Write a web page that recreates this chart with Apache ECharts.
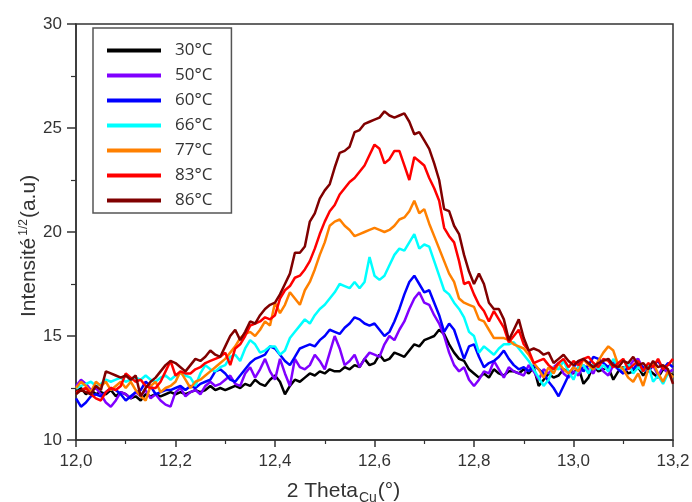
<!DOCTYPE html>
<html>
<head>
<meta charset="utf-8">
<script src="https://cdn.jsdelivr.net/npm/echarts@6/dist/echarts.min.js"></script>
<style>html,body{margin:0;padding:0;background:#fff;}#c{width:692px;height:502px;}</style>
</head>
<body>
<div id="c"></div>
<script>
const twoTheta = [
12.00,12.01,12.02,12.03,12.04,12.05,12.06,12.07,12.08,12.09,
12.10,12.11,12.12,12.13,12.14,12.15,12.16,12.17,12.18,12.19,
12.20,12.21,12.22,12.23,12.24,12.25,12.26,12.27,12.28,12.29,
12.30,12.31,12.32,12.33,12.34,12.35,12.36,12.37,12.38,12.39,
12.40,12.41,12.42,12.43,12.44,12.45,12.46,12.47,12.48,12.49,
12.50,12.51,12.52,12.53,12.54,12.55,12.56,12.57,12.58,12.59,
12.60,12.61,12.62,12.63,12.64,12.65,12.66,12.67,12.68,12.69,
12.70,12.71,12.72,12.73,12.74,12.75,12.76,12.77,12.78,12.79,
12.80,12.81,12.82,12.83,12.84,12.85,12.86,12.87,12.88,12.89,
12.90,12.91,12.92,12.93,12.94,12.95,12.96,12.97,12.98,12.99,
13.00,13.01,13.02,13.03,13.04,13.05,13.06,13.07,13.08,13.09,
13.10,13.11,13.12,13.13,13.14,13.15,13.16,13.17,13.18,13.19,
13.20];

const seriesNames = ['30°C','50°C','60°C','66°C','77°C','83°C','86°C'];
const seriesColors = ['#000000','#8000ff','#0000ff','#00ffff','#ff8000','#ff0000','#800000'];

const t30 = [
12.3,12.5,12.2,12.4,12.2,12.3,12.2,12.4,12.1,12.3,
12.2,12.0,12.1,11.9,12.2,12.1,12.2,12.1,12.2,12.3,
12.2,12.3,12.2,12.3,12.4,12.3,12.4,12.6,12.4,12.5,
12.4,12.5,12.6,12.5,12.7,12.6,12.9,12.7,12.6,12.9,
13.1,12.8,12.2,12.6,12.9,12.8,13.0,13.2,13.1,13.3,
13.2,13.4,13.3,13.3,13.5,13.4,13.6,13.5,13.9,13.6,
13.7,14.1,13.8,13.9,14.2,14.1,14.0,14.3,14.6,14.5,
14.8,14.9,15.0,15.3,15.1,14.6,14.2,13.9,13.8,13.4,
13.2,13.0,13.2,13.0,13.4,13.2,13.1,13.3,13.3,13.2,
13.4,13.2,13.5,12.6,12.9,13.2,13.0,13.1,13.4,13.3,
13.2,13.5,12.7,13.0,13.6,13.3,13.4,13.5,12.9,13.3,
13.5,13.2,13.3,13.5,13.1,13.4,13.2,13.0,13.4,13.3,
13.1];

const t50 = [
12.6,12.9,12.7,12.4,12.5,12.2,11.8,11.6,11.9,12.3,
12.2,12.0,12.3,12.1,12.4,12.0,12.2,11.9,11.7,11.6,
12.3,12.5,12.1,12.3,12.4,12.2,12.6,12.8,12.6,12.7,
12.9,13.1,12.7,12.6,13.2,13.5,13.0,13.4,13.9,13.3,
12.9,13.9,13.2,12.6,13.9,13.5,13.4,13.6,14.1,13.8,
13.4,14.2,15.0,14.4,13.6,13.8,14.1,13.5,13.9,14.2,
14.1,14.0,14.6,15.0,14.8,15.3,15.7,16.3,16.8,17.1,
16.6,16.5,16.0,15.6,15.0,14.2,13.6,13.3,13.5,12.9,
12.6,12.9,13.3,13.2,13.8,13.4,13.0,13.5,13.3,13.2,
13.1,13.6,13.3,12.9,13.4,13.2,13.5,13.7,13.2,13.0,
13.3,13.1,13.6,13.4,13.2,13.8,13.3,13.1,13.6,13.4,
13.2,13.5,13.8,13.9,13.4,13.3,13.6,13.1,13.5,13.2,
13.4];

const t60 = [
12.0,11.6,11.8,12.1,12.2,12.1,12.3,12.5,12.4,12.2,
11.9,12.1,12.3,12.4,12.8,12.6,12.2,12.3,12.4,12.4,
12.5,12.6,12.4,12.6,12.5,12.7,12.8,12.9,13.3,13.4,
13.2,12.9,12.8,13.1,13.4,13.7,13.9,14.0,14.1,14.5,
14.4,14.1,13.8,13.6,14.0,14.4,14.5,14.6,14.5,14.8,
15.0,15.3,15.2,15.1,15.4,15.6,15.9,15.8,15.6,15.5,
15.6,15.3,15.0,15.2,15.7,16.3,17.0,17.6,17.9,17.5,
17.1,17.2,16.6,16.0,15.2,15.6,15.3,14.6,13.9,14.5,
14.6,14.0,13.5,13.7,13.8,14.0,14.3,13.9,13.6,13.4,
13.5,13.3,13.6,13.4,13.2,12.8,12.5,12.1,12.6,13.1,
13.5,13.8,13.3,13.6,14.0,13.9,13.7,13.5,13.8,13.4,
13.2,13.6,13.4,13.7,13.5,13.3,13.6,13.8,13.4,13.7,
13.5];

const t66 = [
12.5,12.6,12.7,12.8,12.6,12.7,12.9,12.8,12.9,13.0,
12.8,12.9,13.0,12.9,13.1,12.9,12.8,13.0,13.1,12.9,
13.1,13.2,13.1,13.0,12.6,13.2,13.6,13.4,13.3,13.5,
13.6,14.0,14.1,13.8,14.4,14.8,14.6,14.2,14.3,14.5,
14.5,14.1,14.3,14.9,15.2,15.5,15.8,15.6,16.0,16.3,
16.5,16.8,17.1,17.5,17.4,17.3,17.6,17.3,17.6,18.8,
17.9,17.7,17.9,18.4,18.9,19.2,19.1,19.5,19.9,19.2,
19.4,19.3,18.6,17.9,17.2,17.0,16.6,16.3,15.9,15.2,
15.0,14.2,14.5,14.3,14.1,14.4,14.6,14.6,14.7,14.4,
14.1,13.8,13.4,13.0,12.6,12.9,13.5,13.4,13.8,13.3,
12.9,13.5,13.6,13.2,13.7,13.4,13.6,13.3,13.9,13.5,
13.4,13.7,13.2,13.5,13.3,13.6,12.8,13.1,12.7,13.2,
13.0];

const t77 = [
12.5,12.8,12.6,12.3,12.8,12.6,12.8,12.4,12.6,12.8,
12.5,12.8,12.4,12.1,11.9,12.6,12.8,12.3,12.5,12.6,
12.8,13.3,12.9,12.5,12.8,12.9,13.1,13.3,13.5,13.7,
13.9,14.2,14.5,14.9,15.1,15.2,15.0,15.3,15.7,15.5,
16.6,16.1,16.5,17.1,16.8,16.5,17.2,17.6,18.2,18.9,
19.5,20.3,20.5,20.6,20.3,20.1,19.8,19.9,20.0,20.1,
20.2,20.1,20.0,20.1,20.3,20.6,20.7,21.0,21.5,20.9,
21.1,20.4,19.8,19.2,18.6,18.0,17.6,16.8,16.6,16.5,
16.4,15.8,15.7,15.3,14.9,14.9,14.9,14.8,14.6,14.5,
14.4,14.1,13.7,13.4,13.0,13.5,13.2,13.7,13.4,13.2,
13.5,13.3,13.9,13.6,13.4,13.8,14.2,14.5,14.3,13.6,
13.4,13.0,12.8,13.2,12.6,13.4,13.7,13.2,12.8,13.3,
13.0];

const t83 = [
12.3,12.4,12.5,12.2,12.0,11.9,12.3,12.5,12.4,12.6,
13.2,13.0,12.8,12.9,12.6,12.5,12.5,12.8,13.3,13.8,
13.1,13.3,13.2,13.2,13.4,13.5,13.7,13.8,13.9,14.0,
14.2,13.6,14.4,14.6,15.0,15.5,15.6,15.7,15.9,15.8,
16.0,16.8,17.2,17.4,17.8,17.9,18.2,18.6,19.2,19.9,
20.5,21.0,21.3,21.8,22.1,22.4,22.6,22.9,23.2,23.7,
24.2,24.0,23.3,23.5,23.9,23.9,23.2,22.5,23.6,23.4,
23.2,22.6,22.1,21.5,20.2,19.8,19.5,18.6,17.5,17.6,
17.0,16.5,16.2,15.7,16.2,15.8,15.4,14.7,15.0,15.3,
14.6,14.3,13.7,13.8,13.9,13.6,13.4,13.7,13.9,13.5,
13.8,13.6,13.9,14.0,13.7,13.5,13.9,13.8,13.5,13.7,
13.9,13.4,13.6,13.8,13.3,13.7,13.5,13.9,13.4,13.6,
13.9];

const t86 = [
12.2,12.4,12.3,12.2,12.6,12.4,13.3,13.2,13.1,13.0,
13.1,12.9,13.1,12.1,12.5,12.8,13.0,13.3,13.6,13.8,
13.7,13.5,13.3,13.6,13.9,13.8,14.0,14.3,14.1,14.0,
14.5,15.0,15.3,14.8,15.2,15.7,15.6,16.0,16.3,16.5,
16.6,17.0,17.5,18.0,19.0,19.0,19.3,20.5,20.9,21.6,
22.0,22.3,23.1,23.8,23.9,24.1,24.8,24.9,25.2,25.3,
25.4,25.5,25.8,25.6,25.5,25.6,25.7,25.3,24.7,24.8,
24.4,24.0,23.3,22.5,21.1,21.0,20.3,19.9,18.9,18.1,
17.5,18.0,17.5,16.6,16.3,16.3,15.8,14.8,15.3,15.8,
14.9,14.3,14.4,14.3,14.1,14.2,13.7,13.9,14.1,13.8,
13.6,13.8,13.9,13.7,13.5,13.7,13.8,13.9,13.6,13.5,
13.8,13.7,14.0,13.6,13.7,13.4,13.8,13.5,13.6,13.4,
12.7];

const allValues = [t30, t50, t60, t66, t77, t83, t86];

const chart = echarts.init(document.getElementById('c'), null, {renderer: 'canvas'});
const axisFont = '"Liberation Sans",Arial,sans-serif';

const option = {
  animation: false,
  backgroundColor: '#ffffff',
  grid: {
    left: 76, right: 19, top: 24, bottom: 62,
    outerBoundsMode: 'none',
    containLabel: false,
    show: true, borderColor: '#333333', borderWidth: 1.5, backgroundColor: 'transparent'
  },
  legend: {
    orient: 'vertical',
    left: 93, top: 28,
    padding: [14, 19, 4, 14],
    itemGap: 8,
    itemWidth: 54,
    itemHeight: 4,
    icon: 'rect',
    borderColor: '#555555',
    borderWidth: 1.5,
    backgroundColor: '#ffffff',
    data: seriesNames,
    textStyle: { fontFamily: '"Open Sans","Noto Sans",sans-serif', fontSize: 17, color: '#333333', padding: [0, 0, 0, 9] }
  },
  xAxis: {
    type: 'value',
    min: 12.0, max: 13.2, interval: 0.2,
    name: '{a|2 Theta}{s|Cu}{a|(°)}',
    nameLocation: 'middle',
    nameGap: 37,
    nameTextStyle: {
      padding: [0, 62, 0, 0],
      rich: {
        a: { fontFamily: axisFont, fontSize: 21, color: '#333333' },
        s: { fontFamily: axisFont, fontSize: 14, color: '#333333', verticalAlign: 'bottom', padding: [14, 1, 0, 1] }
      }
    },
    axisLine: { show: true, lineStyle: { color: '#333333', width: 1.5 } },
    axisTick: { show: true, inside: false, length: 7, lineStyle: { color: '#333333', width: 1.5 } },
    minorTick: { show: true, splitNumber: 2, length: 4, lineStyle: { color: '#333333', width: 1.2 } },
    splitLine: { show: false },
    axisLabel: {
      margin: 13,
      fontFamily: axisFont, fontSize: 17, color: '#333333',
      formatter: v => v.toFixed(1).replace('.', ',')
    }
  },
  yAxis: {
    type: 'value',
    min: 10, max: 30, interval: 5,
    name: '{a|Intensité}{s|1/2}{a|(a.u)}',
    nameLocation: 'middle',
    nameRotate: 90,
    nameMoveOverlap: false,
    nameGap: 36,
    nameTextStyle: {
      padding: [0, 28, 0, 0],
      rich: {
        a: { fontFamily: axisFont, fontSize: 21, color: '#333333' },
        s: { fontFamily: axisFont, fontSize: 12, color: '#333333', verticalAlign: 'top', padding: [0, 1, 10, 2] }
      }
    },
    axisLine: { show: true, lineStyle: { color: '#333333', width: 1.5 } },
    axisTick: { show: true, inside: false, length: 9, lineStyle: { color: '#333333', width: 1.5 } },
    minorTick: { show: true, splitNumber: 2, length: 5, lineStyle: { color: '#333333', width: 1.2 } },
    splitLine: { show: false },
    axisLabel: { margin: 14, fontFamily: axisFont, fontSize: 17, color: '#333333' }
  },
  series: seriesNames.map((name, k) => ({
    name: name,
    type: 'line',
    symbol: 'none',
    color: seriesColors[k],
    lineStyle: { width: 2.5, color: seriesColors[k] },
    data: twoTheta.map((x, i) => [x, allValues[k][i]])
  }))
};
chart.setOption(option);
</script>
</body>
</html>
